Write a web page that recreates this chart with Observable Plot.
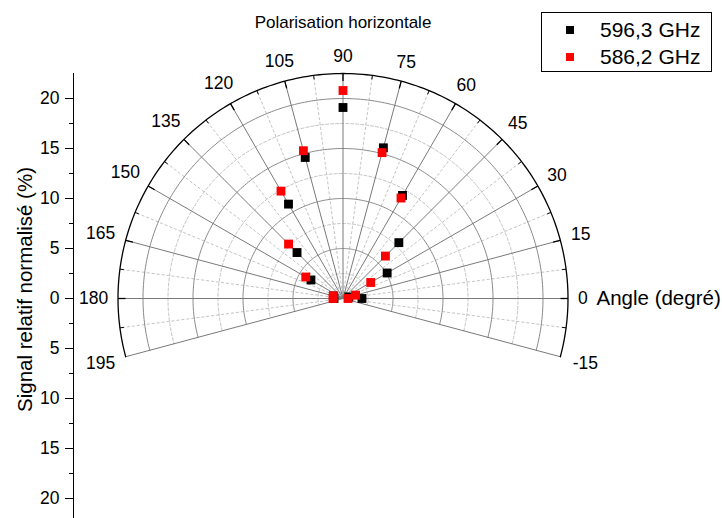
<!DOCTYPE html>
<html><head><meta charset="utf-8">
<script src="https://cdn.jsdelivr.net/npm/d3@7"></script>
<script src="https://cdn.jsdelivr.net/npm/@observablehq/plot@0.6"></script>
<style>
body{margin:0;background:#fff;font-family:"Liberation Sans",Arial,sans-serif}
#wrap{position:relative;width:722px;height:518px}
#legend{position:absolute;left:541px;top:12px;width:169px;height:58px;border:1px solid #000;background:#fff;font-size:21px}
.row{position:absolute;left:0;height:24px;line-height:24px;white-space:nowrap}
.sw{position:absolute;left:24px;top:8px;width:8px;height:8px}
.lab{position:absolute;left:58px;top:0}
</style></head><body><div id="wrap"></div>
<script>
// ---- data ----
const angles = [0, 15, 30, 45, 60, 75, 90, 105, 120, 135, 150, 165, 180];
const signal596 = [1.9, 0.6, 5.1, 7.9, 11.9, 15.6, 19.1, 14.6, 10.9, 6.5, 3.7, 1.0, 0.9];
const signal586 = [0.5, 1.3, 3.2, 6.0, 11.6, 15.1, 20.8, 15.3, 12.4, 7.7, 4.3, 1.0, 1.0];
const seriesNames = ["596,3 GHz", "586,2 GHz"];
const seriesColors = ["#000000", "#ff0000"];
const radialTicks = [-20, -15, -10, -5, 0, 5, 10, 15, 20];
const radialMinor = [-17.5, -12.5, -7.5, -2.5, 2.5, 7.5, 12.5, 17.5];
const angleTicks = [-15, 0, 15, 30, 45, 60, 75, 90, 105, 120, 135, 150, 165, 180, 195];
const angleMinor = [-7.5, 7.5, 22.5, 37.5, 52.5, 67.5, 82.5, 97.5, 112.5, 127.5, 142.5, 157.5, 172.5, 187.5];
const majorCircles = [5, 10, 15, 20];
const minorCircles = [2.5, 7.5, 12.5, 17.5];
const rMax = 22.5;
const angleRange = [-15, 195];
const title = "Polarisation horizontale";
const yLabel = "Signal relatif normalisé (%)";
const angleLabel = "Angle (degré)";

// ---- build ----
const rad = a => a * Math.PI / 180;
const px = (r, a) => r * Math.cos(rad(a));
const py = (r, a) => r * Math.sin(rad(a));
const pts = (vals, name) => angles.map((a, i) => ({a, r: vals[i], s: name}));
const d596 = pts(signal596, seriesNames[0]);
const d586 = pts(signal586, seriesNames[1]);

const arc = (radii) => radii.flatMap(r => d3.range(angleRange[0], angleRange[1] + 0.5, 1).map(a => ({r, a})));
const spokes = (list, r1) => list.map(a => ({a, r0: 0, r1}));

const labelR = a => {
  const s = String(a);
  const hw = s.length * 4.8;
  const c = Math.abs(Math.cos(rad(a))), si = Math.abs(Math.sin(rad(a)));
  return rMax + (10 + c * hw + si * 7.5) / 10;
};

const chart = Plot.plot({
  width: 722, height: 518,
  marginLeft: 73, marginRight: 0, marginTop: 0, marginBottom: 0,
  x: {domain: [-26.95, 37.95], axis: null},
  y: {domain: [-22, 29.8], axis: null},
  style: {fontFamily: "'Liberation Sans', Arial, sans-serif", background: "white", overflow: "visible"},
  marks: [
    // dashed minor grid
    Plot.line(arc(minorCircles), {x: d => px(d.r, d.a), y: d => py(d.r, d.a), z: "r", stroke: "#c4c4c4", strokeWidth: 1, strokeDasharray: "3,2"}),
    Plot.link(spokes(angleMinor, rMax), {x1: d => 0, y1: d => 0, x2: d => px(d.r1, d.a), y2: d => py(d.r1, d.a), stroke: "#c4c4c4", strokeWidth: 1, strokeDasharray: "3,2"}),
    // solid major grid
    Plot.line(arc(majorCircles), {x: d => px(d.r, d.a), y: d => py(d.r, d.a), z: "r", stroke: "#8a8a8a", strokeWidth: 1}),
    Plot.link(spokes(angleTicks, rMax), {x1: d => 0, y1: d => 0, x2: d => px(d.r1, d.a), y2: d => py(d.r1, d.a), stroke: "#7a7a7a", strokeWidth: 1}),
    // outer arc
    Plot.line(arc([rMax]), {x: d => px(d.r, d.a), y: d => py(d.r, d.a), stroke: "#000", strokeWidth: 1.3}),
    // angle ticks on outer arc
    Plot.link(angleTicks.filter(a => a > -15 && a < 195), {x1: a => px(rMax, a), y1: a => py(rMax, a), x2: a => px(rMax - 0.75, a), y2: a => py(rMax - 0.75, a), stroke: "#000", strokeWidth: 1.3}),
    Plot.link(angleMinor, {x1: a => px(rMax, a), y1: a => py(rMax, a), x2: a => px(rMax - 0.4, a), y2: a => py(rMax - 0.4, a), stroke: "#000", strokeWidth: 1}),
    // angle labels
    Plot.text(angleTicks, {x: a => px(labelR(a), a), y: a => py(labelR(a), a), text: a => String(a), fontSize: 17.5, fill: "#000"}),
    Plot.text([angleLabel], {x: 25.35, y: 0, text: d => d, textAnchor: "start", fontSize: 20.5, fill: "#000"}),
    // left radial axis
    Plot.ruleX([-26.95], {y1: rMax, y2: -22, stroke: "#000", strokeWidth: 1}),
    Plot.axisY(radialTicks, {anchor: "left", tickSize: 8, tickPadding: 6, fontSize: 17.5, tickFormat: d => String(Math.abs(d)), label: null}),
    Plot.axisY(radialMinor, {anchor: "left", tickSize: 4, tickFormat: () => "", label: null}),
    Plot.text([yLabel], {x: -31.75, y: 0.9, text: d => d, rotate: -90, fontSize: 20.5, fill: "#000"}),
    // title
    Plot.text([title], {x: 0, y: 27.6, text: d => d, fontSize: 17, fill: "#000"}),
    // data
    Plot.dot(d596, {x: d => px(d.r, d.a), y: d => py(d.r, d.a), symbol: "square", r: 5, fill: seriesColors[0], stroke: "none"}),
    Plot.dot(d586, {x: d => px(d.r, d.a), y: d => py(d.r, d.a), symbol: "square", r: 5, fill: seriesColors[1], stroke: "none"})
  ]
});
const wrap = document.getElementById("wrap");
wrap.appendChild(chart);

const legend = document.createElement("div");
legend.id = "legend";
seriesNames.forEach((n, i) => {
  const row = document.createElement("div");
  row.className = "row";
  row.style.top = (5 + i * 27) + "px";
  row.style.width = "169px";
  const sw = document.createElement("div");
  sw.className = "sw"; sw.style.background = seriesColors[i];
  const lab = document.createElement("div");
  lab.className = "lab"; lab.textContent = n;
  row.appendChild(sw); row.appendChild(lab);
  legend.appendChild(row);
});
wrap.appendChild(legend);
</script>
</body></html>
